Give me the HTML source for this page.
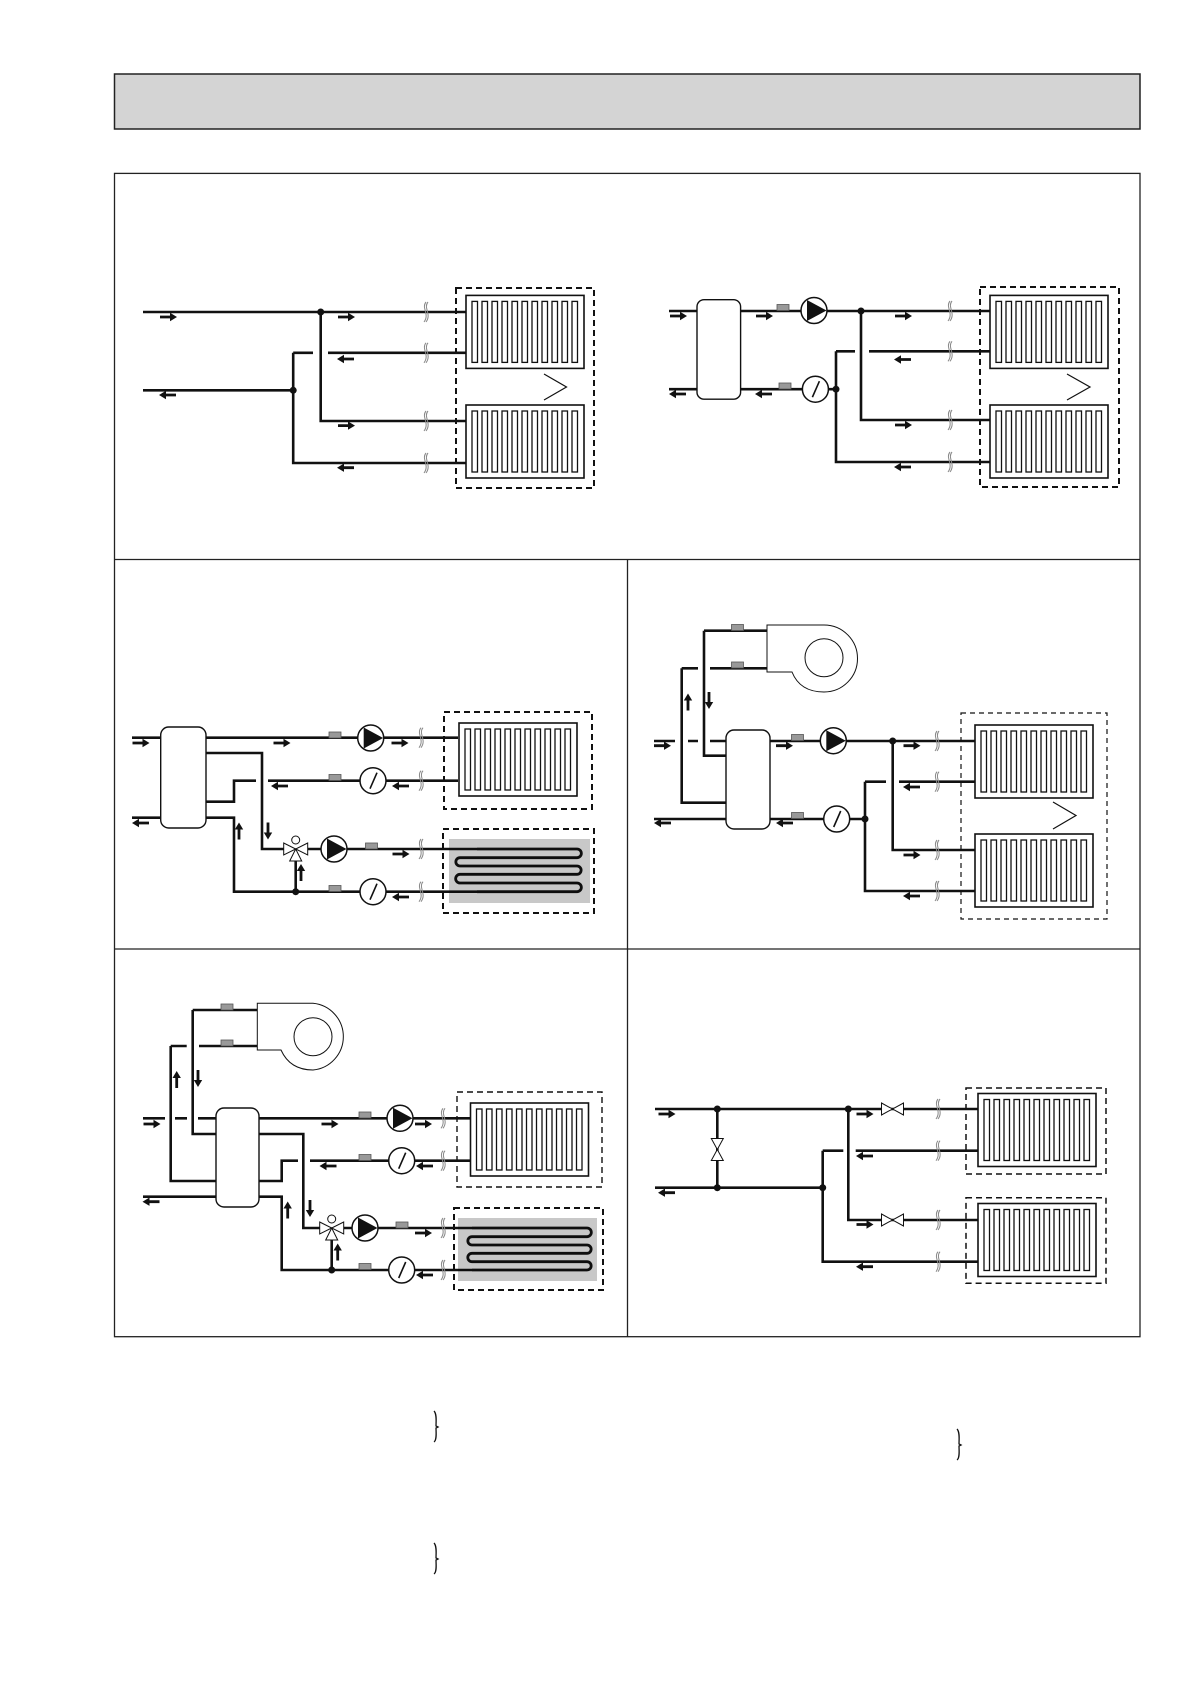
<!DOCTYPE html>
<html><head><meta charset="utf-8"><style>html,body{margin:0;padding:0;background:#fff}svg{display:block}</style></head>
<body>
<svg width="1191" height="1684" viewBox="0 0 1191 1684" xmlns="http://www.w3.org/2000/svg">
<defs>
<g id="ar"><path d="M-8,-1.4 H2 V-4.2 L9,0 L2,4.2 V1.4 H-8Z" fill="#111"/></g>
<g id="pump"><circle r="13" fill="#fff" stroke="#111" stroke-width="1.5"/><path d="M-7,-10.5 L12.5,0 L-7,10.5Z" fill="#111"/></g>
<g id="meter"><circle r="13" fill="#fff" stroke="#111" stroke-width="1.5"/><path d="M-3,8 L4,-8" stroke="#111" stroke-width="1.6"/></g>
<g id="sens"><rect x="-6" y="-3" width="12" height="6" fill="#999" stroke="#555" stroke-width="0.8"/></g>
<g id="sq"><path d="M1,-10 C-4,-4 5,2 -1,10" fill="none" stroke="#888" stroke-width="1"/><path d="M3,-10 C-2,-4 7,2 1,10" fill="none" stroke="#888" stroke-width="1"/></g>
<g id="dot"><circle r="3.5" fill="#111"/></g>
<g id="rad"><rect x="0" y="0" width="118" height="73" fill="#fff" stroke="#111" stroke-width="1.6"/>
<g fill="none" stroke="#111" stroke-width="1.3">
<rect x="6" y="6" width="5.5" height="61"/><rect x="16" y="6" width="5.5" height="61"/><rect x="26" y="6" width="5.5" height="61"/><rect x="36" y="6" width="5.5" height="61"/><rect x="46" y="6" width="5.5" height="61"/><rect x="56" y="6" width="5.5" height="61"/><rect x="66" y="6" width="5.5" height="61"/><rect x="76" y="6" width="5.5" height="61"/><rect x="86" y="6" width="5.5" height="61"/><rect x="96" y="6" width="5.5" height="61"/><rect x="106" y="6" width="5.5" height="61"/></g></g>
<g id="v3"><path d="M-12,-6 L0,0 L-12,6Z M12,-6 L0,0 L12,6Z M-6,12 L0,0 L6,12Z" fill="#fff" stroke="#111" stroke-width="1"/><circle cy="-9" r="4" fill="#fff" stroke="#111" stroke-width="1"/></g>
<g id="bow"><path d="M-11,-6 L11,6 L11,-6 L-11,6Z" fill="#fff" stroke="#111" stroke-width="1"/></g>
</defs>

<!-- header -->
<rect x="114.5" y="74" width="1025.5" height="55" fill="#d4d4d4" stroke="#222" stroke-width="1.5"/>
<!-- main frame -->
<rect x="114.5" y="173.4" width="1025.5" height="1163.3" fill="none" stroke="#222" stroke-width="1.3"/>
<line x1="114.5" y1="559.5" x2="1140" y2="559.5" stroke="#222" stroke-width="1.3"/>
<line x1="114.5" y1="949" x2="1140" y2="949" stroke="#222" stroke-width="1.3"/>
<line x1="627.5" y1="559.5" x2="627.5" y2="1336.7" stroke="#222" stroke-width="1.3"/>

<g fill="none" stroke="#111" stroke-width="2.6">
<!-- PANEL 1 -->
<path d="M143,312 H466 M320.7,312 V421 H466 M143,390.3 H293.2 M293.2,352.8 V463 H466 M293.2,352.8 H313 M328,352.8 H466"/>
<!-- PANEL 2 -->
<path d="M669,311 H990 M861,311 V420 H990 M669,389.2 H836 M836,351.3 V462 H990 M836,351.3 H855 M869,351.3 H990"/>
<!-- PANEL 3 -->
<path d="M132,737.7 H458 M132,817.7 H161 M206,753 H262 V849 H285 M458,780.7 H268 M256,780.7 H234 V801.7 H206 M206,817.7 H234 V891.7 H477 M295.7,891.7 V860 M306,849 H477"/>
<path d="M477,849 H577 A4.35,4.35 0 0 1 577,857.7 H460 A4.15,4.15 0 0 0 460,866 H577 A4.15,4.15 0 0 1 577,874.3 H460 A4.35,4.35 0 0 0 460,883 H577 A4.35,4.35 0 0 1 577,891.7 H477" stroke-width="2.8"/>
<!-- PANEL 4 -->
<path d="M704,630.7 H767 M704,630.7 V755.7 H726 M710,668.3 H767 M681.7,668.3 H698 M681.7,668.3 V802.7 H726 M654,741 H675 M688,741 H698 M710,741 H726 M654,819 H726 M770,741 H975 M892.7,741 V850 H975 M770,819 H865 M865,781.7 V891 H975 M865,781.7 H886 M899,781.7 H975"/>
<!-- PANEL 5 -->
<path d="M192.7,1010 H257 M192.7,1010 V1134 H216 M199,1046 H257 M170.7,1046 H186.7 M170.7,1046 V1181 H216 M143,1118.3 H165 M175,1118.3 H187 M198,1118.3 H216 M143,1196.7 H216 M259,1118.3 H471 M471,1160.7 H310 M298,1160.7 H281.7 V1181 H259 M259,1134 H303.3 V1228 H320 M259,1196.7 H281.7 V1270 H472 M331.7,1270 V1240 M343,1228 H472"/>
<path d="M472,1228 H587 A4.35,4.35 0 0 1 587,1236.7 H472 A4.15,4.15 0 0 0 472,1245 H587 A4.15,4.15 0 0 1 587,1253.3 H472 A4.2,4.2 0 0 0 472,1261.7 H587 A4.15,4.15 0 0 1 587,1270 H472" stroke-width="2.8"/>
<!-- PANEL 6 -->
<path d="M655,1109 H978 M717.3,1109 V1187.7 M655,1187.7 H822.7 M822.7,1150.7 V1261.7 H978 M822.7,1150.7 H843.3 M855.7,1150.7 H978 M848.3,1109 V1220 H978"/>
</g>

<!-- floor heating grey areas (under coil) -->
<rect x="449" y="839" width="141" height="64" fill="#c8c8c8" style="mix-blend-mode:multiply"/>
<rect x="458" y="1218" width="139" height="63" fill="#c8c8c8" style="mix-blend-mode:multiply"/>

<!-- dashed boxes -->
<g fill="none" stroke="#111" stroke-width="2" stroke-dasharray="6 4">
<rect x="456" y="288" width="138" height="200"/>
<rect x="980" y="287" width="139" height="200"/>
<rect x="444" y="712" width="148" height="97"/>
<rect x="443" y="829" width="151" height="84"/>
<rect x="457" y="1092" width="145" height="95" stroke-width="1.4"/>
<rect x="454" y="1208" width="149" height="82"/>
<rect x="966" y="1088" width="140" height="86" stroke-width="1.5"/>
<rect x="966" y="1197.7" width="140" height="85.6" stroke-width="1.5"/>
<rect x="961" y="713" width="146" height="206" stroke-width="1.2" stroke-dasharray="5 4"/>
</g>

<!-- radiators -->
<use href="#rad" x="466" y="295.4"/>
<use href="#rad" x="466" y="405"/>
<use href="#rad" x="990" y="295.4"/>
<use href="#rad" x="990" y="405"/>
<use href="#rad" x="459" y="723"/>
<use href="#rad" x="975" y="725"/>
<use href="#rad" x="975" y="834"/>
<use href="#rad" x="470.5" y="1103"/>
<use href="#rad" x="978" y="1093.5"/>
<use href="#rad" x="978" y="1203.5"/>

<!-- > symbols -->
<g fill="none" stroke="#111" stroke-width="1.2">
<path d="M544,374 L566.5,387 L544,400"/>
<path d="M1067,374 L1090,387 L1067,400"/>
<path d="M1053,802 L1076,815.5 L1053,829"/>
</g>

<!-- tanks -->
<g fill="#fff" stroke="#111" stroke-width="1.4">
<rect x="697" y="299.7" width="43.6" height="99.5" rx="7"/>
<rect x="160.7" y="727" width="45.3" height="101" rx="8"/>
<rect x="726" y="730" width="44" height="99" rx="8"/>
<rect x="216" y="1108" width="43" height="99" rx="8"/>
<!-- boilers -->
<path d="M767,625 H824 A33.5,33.5 0 0 1 824,692 Q800,692 792,672 H767 Z" stroke-width="1"/>
<circle cx="824" cy="657.7" r="19" stroke-width="1"/>
<path d="M257.3,1003.3 H313 A33.5,33.5 0 0 1 313,1070 Q290,1070 281,1050 H257.3 Z" stroke-width="1"/>
<circle cx="313" cy="1036.7" r="19" stroke-width="1"/>
</g>

<!-- junction dots -->
<use href="#dot" x="320.7" y="312"/><use href="#dot" x="293.2" y="390.3"/>
<use href="#dot" x="861" y="311"/><use href="#dot" x="836" y="389.2"/>
<use href="#dot" x="295.7" y="891.7"/>
<use href="#dot" x="892.7" y="741"/><use href="#dot" x="865" y="819"/>
<use href="#dot" x="331.7" y="1270"/>
<use href="#dot" x="717.3" y="1109"/><use href="#dot" x="717.3" y="1187.7"/><use href="#dot" x="848.3" y="1109"/><use href="#dot" x="822.7" y="1187.7"/>

<!-- pumps / meters / sensors -->
<use href="#sens" x="783" y="307.5"/><use href="#pump" x="814" y="310.5"/>
<use href="#sens" x="785" y="386"/><use href="#meter" x="815.4" y="389.2"/>
<use href="#sens" x="335" y="735"/><use href="#pump" x="370.7" y="738"/>
<use href="#sens" x="335" y="777.5"/><use href="#meter" x="373" y="780.7"/>
<use href="#v3" x="295.7" y="849"/>
<use href="#pump" x="334" y="849"/><use href="#sens" x="371.5" y="846"/>
<use href="#sens" x="335" y="888.5"/><use href="#meter" x="373" y="891.7"/>
<use href="#sens" x="737.5" y="627.5"/><use href="#sens" x="737.5" y="665"/>
<use href="#sens" x="797.5" y="737.5"/><use href="#pump" x="833.3" y="740.7"/>
<use href="#sens" x="797.5" y="815.5"/><use href="#meter" x="836.7" y="819"/>
<use href="#sens" x="227" y="1007"/><use href="#sens" x="227" y="1043"/>
<use href="#sens" x="365" y="1115"/><use href="#pump" x="400" y="1118.3"/>
<use href="#sens" x="365" y="1157.5"/><use href="#meter" x="401.7" y="1160.7"/>
<use href="#v3" x="331.7" y="1228"/>
<use href="#pump" x="365" y="1228"/><use href="#sens" x="402" y="1225"/>
<use href="#sens" x="365" y="1266.5"/><use href="#meter" x="401.7" y="1270"/>
<use href="#bow" x="892.5" y="1109"/><use href="#bow" x="892.5" y="1220"/>
<use href="#bow" transform="translate(717.3,1149.5) rotate(90)"/>

<!-- squiggles -->
<use href="#sq" x="425" y="312"/><use href="#sq" x="425" y="352.8"/><use href="#sq" x="425" y="421"/><use href="#sq" x="425" y="463"/>
<use href="#sq" x="949" y="311"/><use href="#sq" x="949" y="351.3"/><use href="#sq" x="949" y="420"/><use href="#sq" x="949" y="462"/>
<use href="#sq" x="420" y="737.7"/><use href="#sq" x="420" y="780.7"/><use href="#sq" x="420" y="849"/><use href="#sq" x="420" y="891.7"/>
<use href="#sq" x="936" y="741"/><use href="#sq" x="936" y="781.7"/><use href="#sq" x="936" y="850"/><use href="#sq" x="936" y="891"/>
<use href="#sq" x="442" y="1118.3"/><use href="#sq" x="442" y="1160.7"/><use href="#sq" x="442" y="1228"/><use href="#sq" x="442" y="1270"/>
<use href="#sq" x="937" y="1109"/><use href="#sq" x="937" y="1150.7"/><use href="#sq" x="937" y="1220"/><use href="#sq" x="937" y="1261.7"/>

<!-- arrows -->
<use href="#ar" transform="translate(168,317)"/>
<use href="#ar" transform="translate(168,395) rotate(180)"/>
<use href="#ar" transform="translate(346,317)"/>
<use href="#ar" transform="translate(346,359) rotate(180)"/>
<use href="#ar" transform="translate(346,425.6)"/>
<use href="#ar" transform="translate(346,467.7) rotate(180)"/>
<use href="#ar" transform="translate(678,316)"/>
<use href="#ar" transform="translate(678,394) rotate(180)"/>
<use href="#ar" transform="translate(764,316)"/>
<use href="#ar" transform="translate(764,394) rotate(180)"/>
<use href="#ar" transform="translate(903,316)"/>
<use href="#ar" transform="translate(903,359.5) rotate(180)"/>
<use href="#ar" transform="translate(903,425)"/>
<use href="#ar" transform="translate(903,467) rotate(180)"/>

<use href="#ar" transform="translate(140.5,743)"/>
<use href="#ar" transform="translate(141,823) rotate(180)"/>
<use href="#ar" transform="translate(281.5,743)"/>
<use href="#ar" transform="translate(280,786) rotate(180)"/>
<use href="#ar" transform="translate(399.5,743)"/>
<use href="#ar" transform="translate(401,786) rotate(180)"/>
<use href="#ar" transform="translate(400.5,854)"/>
<use href="#ar" transform="translate(401,897) rotate(180)"/>
<use href="#ar" transform="translate(239,831.5) rotate(-90)"/>
<use href="#ar" transform="translate(268,830.5) rotate(90)"/>
<use href="#ar" transform="translate(301,873) rotate(-90)"/>

<use href="#ar" transform="translate(662,745.7)"/>
<use href="#ar" transform="translate(663,823) rotate(180)"/>
<use href="#ar" transform="translate(784,745.7)"/>
<use href="#ar" transform="translate(785,823) rotate(180)"/>
<use href="#ar" transform="translate(911.5,745.7)"/>
<use href="#ar" transform="translate(912,787) rotate(180)"/>
<use href="#ar" transform="translate(911.5,855)"/>
<use href="#ar" transform="translate(912,896) rotate(180)"/>
<use href="#ar" transform="translate(688,702.5) rotate(-90)"/>
<use href="#ar" transform="translate(709,700) rotate(90)"/>

<use href="#ar" transform="translate(151.5,1124)"/>
<use href="#ar" transform="translate(151.5,1201.7) rotate(180)"/>
<use href="#ar" transform="translate(329.5,1124)"/>
<use href="#ar" transform="translate(328.5,1166) rotate(180)"/>
<use href="#ar" transform="translate(423,1124)"/>
<use href="#ar" transform="translate(425,1166) rotate(180)"/>
<use href="#ar" transform="translate(423,1233)"/>
<use href="#ar" transform="translate(425,1275) rotate(180)"/>
<use href="#ar" transform="translate(176.7,1080) rotate(-90)"/>
<use href="#ar" transform="translate(198,1078) rotate(90)"/>
<use href="#ar" transform="translate(287.7,1210.5) rotate(-90)"/>
<use href="#ar" transform="translate(310,1208) rotate(90)"/>
<use href="#ar" transform="translate(337.7,1252.5) rotate(-90)"/>

<use href="#ar" transform="translate(666.5,1114)"/>
<use href="#ar" transform="translate(667,1192.7) rotate(180)"/>
<use href="#ar" transform="translate(864.5,1114)"/>
<use href="#ar" transform="translate(865,1156) rotate(180)"/>
<use href="#ar" transform="translate(864.5,1224.5)"/>
<use href="#ar" transform="translate(865,1266.7) rotate(180)"/>

<!-- braces -->
<g fill="none" stroke="#111" stroke-width="1.3">
<path d="M434,1411 C437,1414 436,1422 436,1426 L438,1427 L436,1428 C436,1432 437,1440 434,1442"/>
<path d="M434,1543 C437,1546 436,1554 436,1558 L438,1559 L436,1560 C436,1564 437,1572 434,1574"/>
<path d="M957,1429 C960,1432 959,1440 959,1444 L961,1445 L959,1446 C959,1450 960,1458 957,1460"/>
</g>
</svg>
</body></html>
